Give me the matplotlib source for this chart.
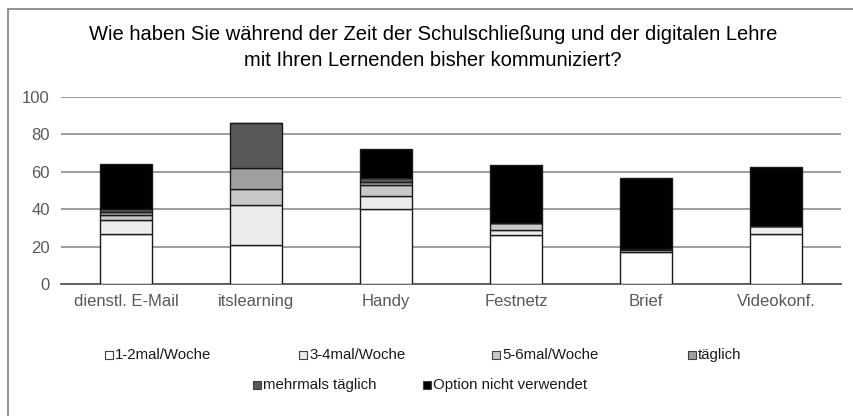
import matplotlib
matplotlib.use("Agg")
import matplotlib.pyplot as plt
from matplotlib.patches import Rectangle
import numpy as np

plt.rcParams['font.family'] = ['Liberation Sans', 'DejaVu Sans']

categories = ["dienstl. E-Mail", "itslearning", "Handy", "Festnetz", "Brief", "Videokonf."]
series_names = ["1-2mal/Woche", "3-4mal/Woche", "5-6mal/Woche", "täglich",
                "mehrmals täglich", "Option nicht verwendet"]
woche_1_2 = [27, 21, 40, 26, 17, 27]
woche_3_4 = [7, 21, 7, 3, 1, 4]
woche_5_6 = [3, 9, 6, 3.5, 0.5, 0]
taeglich = [1.5, 11, 1.5, 0, 0, 0]
mehrmals_taeglich = [1.5, 24, 2, 0, 0, 0]
nicht_verwendet = [24, 0, 15.5, 31, 38, 31.5]
y_ticks = [0, 20, 40, 60, 80, 100]

series = [woche_1_2, woche_3_4, woche_5_6, taeglich, mehrmals_taeglich, nicht_verwendet]
colors = ["#ffffff", "#ebebeb", "#c8c8c8", "#a0a0a0", "#595959", "#000000"]

W, H = 854, 416
fig = plt.figure(figsize=(W / 100, H / 100), dpi=100)
ax = fig.add_axes([61 / W, 1 - 284 / H, (841 - 61) / W, (284 - 97) / H])

x = np.arange(len(categories))
bottom = np.zeros(len(categories))
for vals, col in zip(series, colors):
    vals = np.array(vals, dtype=float)
    ax.bar(x, vals, bottom=bottom, width=0.4, color=col, edgecolor="#1a1a1a",
           linewidth=1.0, zorder=3)
    bottom += vals

ax.set_xlim(-0.5, len(categories) - 0.5)
ax.set_ylim(0, 100)
ax.set_yticks(y_ticks)
ax.yaxis.grid(True, color="#8c8c8c", linewidth=1.2, zorder=0)
ax.set_axisbelow(True)
for s in ["top", "right", "left"]:
    ax.spines[s].set_visible(False)
ax.spines["bottom"].set_color("#595959")
ax.spines["bottom"].set_linewidth(1.3)
ax.set_xticks(x)
ax.set_xticklabels(categories)
ax.tick_params(axis="both", length=0, labelsize=12, labelcolor="#595959")
ax.tick_params(axis="x", pad=7)
ax.tick_params(axis="y", pad=8)

fig.text(433 / W, 1 - 34 / H, "Wie haben Sie während der Zeit der Schulschließung und der digitalen Lehre",
         ha="center", va="center", fontsize=14.5, color="#000000")
fig.text(433 / W, 1 - 61 / H, "mit Ihren Lernenden bisher kommuniziert?",
         ha="center", va="center", fontsize=14.5, color="#000000")

# legend, centred rows
legend_pos = [(105, 355), (299, 355), (492, 355), (688, 355), (253, 385), (423, 385)]
for (lx, ly), name, col in zip(legend_pos, series_names, colors):
    fig.patches.append(Rectangle((lx / W, 1 - (ly + 4) / H), 8 / W, 8 / H,
                                 transform=fig.transFigure, facecolor=col,
                                 edgecolor="#404040", linewidth=0.8))
    fig.text((lx + 10) / W, 1 - ly / H, name, ha="left", va="center",
             fontsize=10.8, color="#1a1a1a")

# outer chart frame
fig.patches.append(Rectangle((8 / W, -0.1), 1.2, 1 - 9 / H + 0.1,
                             transform=fig.transFigure, fill=False,
                             edgecolor="#7f7f7f", linewidth=1.2))

fig.savefig("out.png", dpi=100)
